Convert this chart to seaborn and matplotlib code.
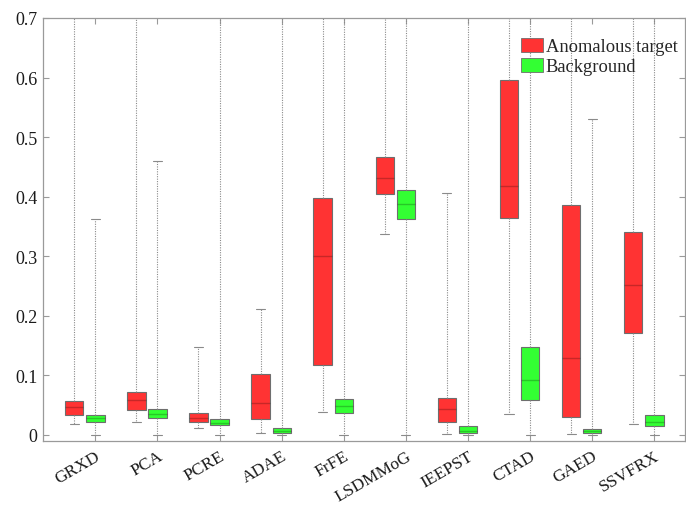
import numpy as np
import pandas as pd
import matplotlib
matplotlib.use("Agg")
import matplotlib.pyplot as plt
from matplotlib.patches import Patch
import seaborn as sns

# Detection methods
methods = ["GRXD", "PCA", "PCRE", "ADAE", "FrFE", "LSDMMoG",
           "IEEPST", "CTAD", "GAED", "SSVFRX"]

# Box statistics for the anomalous target pixels
target_low = [0.018, 0.022, 0.011, 0.003, 0.0386, 0.338, 0.0017, 0.0343, 0.0017, 0.0175]
target_q1  = [0.033, 0.0415, 0.021, 0.027, 0.118, 0.405, 0.0208, 0.3635, 0.0297, 0.1708]
target_med = [0.046, 0.058, 0.029, 0.053, 0.2997, 0.4307, 0.0427, 0.4173, 0.1288, 0.2515]
target_q3  = [0.0566, 0.072, 0.0365, 0.1015, 0.3976, 0.467, 0.0622, 0.5963, 0.3853, 0.340]
target_high = [0.80, 0.80, 0.148, 0.212, 0.80, 0.80, 0.4055, 0.80, 0.80, 0.80]

# Box statistics for the background pixels
back_low = [0.0, 0.0, 0.0, 0.0, 0.0, 0.0, 0.0, 0.0, 0.0, 0.0]
back_q1  = [0.022, 0.0275, 0.0158, 0.0034, 0.036, 0.3623, 0.0024, 0.0583, 0.003, 0.0141]
back_med = [0.028, 0.035, 0.0205, 0.007, 0.048, 0.387, 0.007, 0.0914, 0.006, 0.0213]
back_q3  = [0.034, 0.043, 0.0264, 0.0107, 0.0605, 0.4116, 0.0151, 0.1478, 0.010, 0.0336]
back_high = [0.362, 0.459, 0.80, 0.80, 0.80, 0.80, 0.80, 0.80, 0.530, 0.80]

groups = ["Anomalous target", "Background"]
colors = ["#ff3333", "#33ff33"]

# Five summary values per box; with whiskers at min/max these reproduce the box exactly
rows = []
for i, m in enumerate(methods):
    for v in (target_low[i], target_q1[i], target_med[i], target_q3[i], target_high[i]):
        rows.append((m, groups[0], v))
    for v in (back_low[i], back_q1[i], back_med[i], back_q3[i], back_high[i]):
        rows.append((m, groups[1], v))
df = pd.DataFrame(rows, columns=["method", "group", "value"])

sns.set_style("white")
plt.rcParams["font.family"] = ["Liberation Serif", "DejaVu Serif"]

fig = plt.figure(figsize=(6.86, 5.06), dpi=100)
ax = fig.add_axes([0.0627, 0.127, 0.9355, 0.8355])

edge = "#6e6e6e"
sns.boxplot(
    data=df, x="method", y="value", hue="group", order=methods, hue_order=groups,
    palette=colors, saturation=1, whis=(0, 100), width=0.68, gap=0.13, linewidth=0.8,
    linecolor=edge, ax=ax, legend=False,
    boxprops={"edgecolor": edge, "linewidth": 0.8},
    medianprops={"color": (0, 0, 0, 0.22), "linewidth": 1.0},
    whiskerprops={"color": "#8a8a8a", "linestyle": (0, (1, 1.2)), "linewidth": 0.8},
    capprops={"color": "#8a8a8a", "linewidth": 0.8},
)

ax.set_xlim(-0.673, 9.66)
ax.set_ylim(-0.01, 0.7)
ax.set_xticks(np.arange(len(methods)) + 0.17)
ax.set_xticklabels(methods, rotation=30, ha="right", rotation_mode="anchor",
                   fontsize=12.5, family=["Liberation Serif"])
ax.set_yticks(np.arange(0, 0.71, 0.1))
ax.set_yticklabels(["0", "0.1", "0.2", "0.3", "0.4", "0.5", "0.6", "0.7"],
                   fontsize=13, family=["Liberation Serif"])
ax.set_xlabel("")
ax.set_ylabel("")

for s in ax.spines.values():
    s.set_color("#9a9a9a")
    s.set_linewidth(0.9)
ax.tick_params(axis="both", direction="in", length=4, width=0.8, color="#9a9a9a",
               top=True, right=True, bottom=True, left=True, labelcolor="#1a1a1a")
ax.tick_params(axis="y", pad=4)
ax.tick_params(axis="x", pad=5)

handles = [Patch(facecolor=c, edgecolor=edge, linewidth=0.6) for c in colors]
ax.legend(handles, groups, loc="upper right", frameon=False,
          prop={"family": "Liberation Serif", "size": 13.3},
          handlelength=1.2, handleheight=0.75, handletextpad=0.15, labelspacing=0.15,
          borderaxespad=0.0, bbox_to_anchor=(1.0, 0.97))

fig.savefig("out.png", dpi=100)
